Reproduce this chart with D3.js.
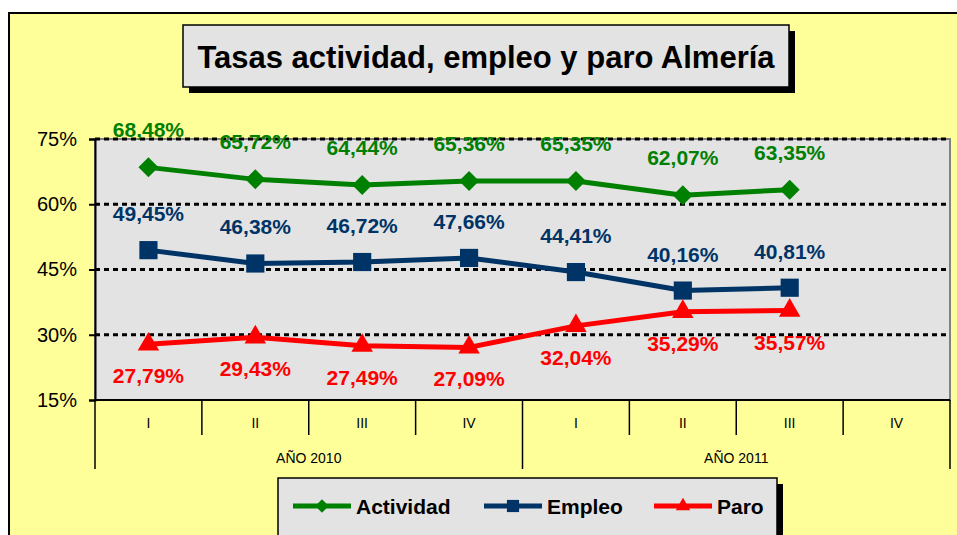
<!DOCTYPE html>
<html>
<head>
<meta charset="utf-8">
<script src="https://cdn.jsdelivr.net/npm/d3@7"></script>
<style>
  body { margin: 0; background: #fff; }
  svg { display: block; font-family: Arial, "Liberation Sans", sans-serif; }
</style>
</head>
<body>
<svg id="chart" width="957" height="535"></svg>
<script>
const years = ["AÑO 2010", "AÑO 2011"];
const quarters = ["I", "II", "III", "IV"];
const actividad = [68.48, 65.72, 64.44, 65.36, 65.35, 62.07, 63.35, null];
const empleo = [49.45, 46.38, 46.72, 47.66, 44.41, 40.16, 40.81, null];
const paro = [27.79, 29.43, 27.49, 27.09, 32.04, 35.29, 35.57, null];
const yTicks = [15, 30, 45, 60, 75];

const svg = d3.select("#chart");
const plot = { left: 95, right: 950, top: 139, bottom: 400 };

// categories: year|quarter
const cats = [];
years.forEach(yr => quarters.forEach(q => cats.push(yr + "|" + q)));

const x = d3.scaleBand().domain(cats).range([plot.left, plot.right]);
const xYear = d3.scaleBand().domain(years).range([plot.left, plot.right]);
const y = d3.scaleLinear().domain([15, 75]).range([plot.bottom, plot.top]);

const locale = d3.formatLocale({ decimal: ",", thousands: ".", grouping: [3], currency: ["", "€"] });
const pctFmt = v => locale.format(".2f")(v) + "%";

// outer background + frame
svg.append("rect")
  .attr("x", 9).attr("y", 13)
  .attr("width", 970).attr("height", 540)
  .attr("fill", "#FFFF99")
  .attr("stroke", "#000")
  .attr("stroke-width", 2);

// title box with shadow
const titleBox = { x: 183, y: 25, w: 606, h: 62 };
svg.append("rect")
  .attr("x", titleBox.x + 6).attr("y", titleBox.y + 6)
  .attr("width", titleBox.w).attr("height", titleBox.h)
  .attr("fill", "#000");
svg.append("rect")
  .attr("x", titleBox.x).attr("y", titleBox.y)
  .attr("width", titleBox.w).attr("height", titleBox.h)
  .attr("fill", "#E3E3E3")
  .attr("stroke", "#000")
  .attr("stroke-width", 1.5);
svg.append("text")
  .attr("x", titleBox.x + titleBox.w / 2)
  .attr("y", 68)
  .attr("text-anchor", "middle")
  .style("font-size", "31px")
  .style("font-weight", "bold")
  .text("Tasas actividad, empleo y paro Almería");

// plot area
svg.append("rect")
  .attr("x", plot.left).attr("y", plot.top)
  .attr("width", plot.right - plot.left).attr("height", plot.bottom - plot.top)
  .attr("fill", "#E3E3E3")
  .attr("stroke", "#808080")
  .attr("stroke-width", 2);

// gridlines
svg.append("g")
  .selectAll("line")
  .data(yTicks.filter(d => d > 15))
  .join("line")
  .attr("x1", plot.left).attr("x2", plot.right)
  .attr("y1", d => y(d)).attr("y2", d => y(d))
  .attr("stroke", "#000")
  .attr("stroke-width", 3)
  .attr("stroke-dasharray", "5,4");

// y axis
const yAxis = d3.axisLeft(y)
  .tickValues(yTicks)
  .tickSize(6)
  .tickPadding(12)
  .tickFormat(d => d + "%");
const yAxisG = svg.append("g")
  .attr("transform", `translate(${plot.left},0)`)
  .call(yAxis);
yAxisG.select(".domain").attr("stroke", "#000").attr("stroke-width", 2);
yAxisG.selectAll("line").attr("stroke", "#000").attr("stroke-width", 2);
yAxisG.selectAll("text")
  .style("font-size", "20px")
  .style("font-family", "Arial, 'Liberation Sans', sans-serif")
  .attr("fill", "#000");

// x axis: baseline, quarter and year separators
const xg = svg.append("g");
xg.append("line")
  .attr("x1", plot.left).attr("x2", plot.right)
  .attr("y1", plot.bottom).attr("y2", plot.bottom)
  .attr("stroke", "#000").attr("stroke-width", 2);

const quarterEdges = cats.slice(1).map(c => x(c))
  .filter(px => !years.some(yr => Math.abs(xYear(yr) - px) < 1));
xg.selectAll("line.qsep")
  .data(quarterEdges)
  .join("line")
  .attr("class", "qsep")
  .attr("x1", d => d).attr("x2", d => d)
  .attr("y1", plot.bottom).attr("y2", 435)
  .attr("stroke", "#000").attr("stroke-width", 1.5);

const yearEdges = years.map(yr => xYear(yr)).concat([plot.right]);
xg.selectAll("line.ysep")
  .data(yearEdges)
  .join("line")
  .attr("class", "ysep")
  .attr("x1", d => d).attr("x2", d => d)
  .attr("y1", plot.bottom).attr("y2", 469)
  .attr("stroke", "#000").attr("stroke-width", 1.5);

xg.selectAll("text.qlab")
  .data(cats)
  .join("text")
  .attr("class", "qlab")
  .attr("x", d => x(d) + x.bandwidth() / 2)
  .attr("y", 428)
  .attr("text-anchor", "middle")
  .attr("fill", "#000")
  .style("font-size", "14px")
  .text(d => d.split("|")[1]);

xg.selectAll("text.ylab")
  .data(years)
  .join("text")
  .attr("class", "ylab")
  .attr("x", d => xYear(d) + xYear.bandwidth() / 2)
  .attr("y", 463)
  .attr("text-anchor", "middle")
  .attr("fill", "#000")
  .style("font-size", "14px")
  .text(d => d);

// series
const series = [
  { name: "Actividad", values: actividad, color: "#008000", symbol: d3.symbolSquare, size: 200, rotate: 45, labelDy: -30 },
  { name: "Empleo", values: empleo, color: "#003366", symbol: d3.symbolSquare, size: 330, rotate: 0, labelDy: -29 },
  { name: "Paro", values: paro, color: "#FF0000", symbol: d3.symbolTriangle, size: 200, rotate: 0, labelDy: 39 }
];

const line = d3.line()
  .defined(d => d.v != null)
  .x(d => x(d.c) + x.bandwidth() / 2)
  .y(d => y(d.v));

series.forEach(s => {
  const pts = s.values.map((v, i) => ({ c: cats[i], v }));
  const g = svg.append("g");
  g.append("path")
    .datum(pts)
    .attr("fill", "none")
    .attr("stroke", s.color)
    .attr("stroke-width", 5)
    .attr("stroke-linejoin", "round")
    .attr("d", line);
  g.selectAll("path.mk")
    .data(pts.filter(d => d.v != null))
    .join("path")
    .attr("class", "mk")
    .attr("transform", d => `translate(${x(d.c) + x.bandwidth() / 2},${y(d.v)}) rotate(${s.rotate})`)
    .attr("d", d3.symbol(s.symbol, s.size))
    .attr("fill", s.color);
  g.selectAll("text.lbl")
    .data(pts.filter(d => d.v != null))
    .join("text")
    .attr("class", "lbl")
    .attr("x", d => x(d.c) + x.bandwidth() / 2)
    .attr("y", d => y(d.v) + s.labelDy)
    .attr("text-anchor", "middle")
    .attr("fill", s.color)
    .style("font-size", "21px")
    .style("font-weight", "bold")
    .text(d => pctFmt(d.v));
});

// legend
const leg = { x: 278, y: 478, w: 499, h: 70 };
svg.append("rect")
  .attr("x", leg.x + 6).attr("y", leg.y + 6)
  .attr("width", leg.w).attr("height", leg.h)
  .attr("fill", "#000");
svg.append("rect")
  .attr("x", leg.x).attr("y", leg.y)
  .attr("width", leg.w).attr("height", leg.h)
  .attr("fill", "#E3E3E3")
  .attr("stroke", "#000")
  .attr("stroke-width", 1.5);

const legendX = [293, 484, 654];
series.forEach((s, i) => {
  const lg = svg.append("g").attr("transform", `translate(${legendX[i]},506)`);
  lg.append("line")
    .attr("x1", 0).attr("x2", 58)
    .attr("stroke", s.color)
    .attr("stroke-width", 5);
  lg.append("path")
    .attr("transform", `translate(29,0) rotate(${s.rotate})`)
    .attr("d", d3.symbol(s.symbol, s.size * 0.45))
    .attr("fill", s.color);
  lg.append("text")
    .attr("x", 63)
    .attr("y", 8)
    .style("font-size", "21px")
    .style("font-weight", "bold")
    .text(s.name);
});
</script>
</body>
</html>
